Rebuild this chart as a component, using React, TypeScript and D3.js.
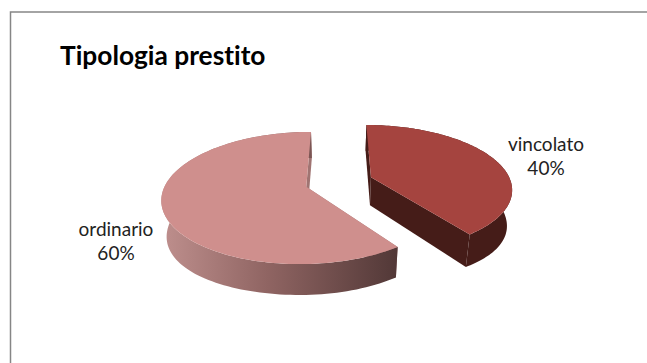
import React from "react";
import * as d3 from "d3";

const categories = ["vincolato", "ordinario"];
const shares = [40, 60];
const sliceColours = ["#a5443f", "#cf8f8d"];
const wallColours = ["#451c18", "#a07472"];
const titleText = "Tipologia prestito";

const W = 647;
const H = 363;
const FONT = "Lato, Carlito, sans-serif";

// Pie geometry in plane coordinates, seen through a mild perspective.
const RADIUS = 140;
const EXPLODE = 34;
const CENTER_X = 339;
const CENTER_Y = 182;
const TILT = 0.447;
const PERSPECTIVE = 0.0012;
const THICKNESS = 28;
const SIDE_BULGE = 8;
const BASE_SHRINK = 0.03;

type P = [number, number];

const perspective = (v: number) => 1 / (1 - PERSPECTIVE * v);

function topPoint(u: number, v: number): P {
  const s = perspective(v);
  return [CENTER_X + u * s, CENTER_Y + TILT * v * s];
}

// The underside sits lower towards the flanks, so the wall looks deeper there.
function basePoint(u: number, v: number): P {
  const s = perspective(v);
  const [x, y] = topPoint(u, v);
  const flank = Math.max(0, Math.abs(u) - EXPLODE) / RADIUS;
  return [
    CENTER_X + (x - CENTER_X) * (1 - BASE_SHRINK),
    y + THICKNESS * Math.sqrt(s) + SIDE_BULGE * flank * flank,
  ];
}

const pieLayout = d3
  .pie<number>()
  .sort(null)
  .startAngle(0)
  .endAngle(2 * Math.PI);

const linePath = d3.line<P>().curve(d3.curveLinear);

interface Rim {
  apex: P;
  rim: P[];
}

function planeRim(start: number, end: number): Rim {
  const mid = (start + end) / 2;
  const ox = EXPLODE * Math.sin(mid);
  const oy = -EXPLODE * Math.cos(mid);
  const angles = d3.range(0, 121).map((i) => start + ((end - start) * i) / 120);
  return {
    apex: [ox, oy],
    rim: angles.map((a) => [ox + RADIUS * Math.sin(a), oy - RADIUS * Math.cos(a)] as P),
  };
}

function Slice({ index, start, end, wallFill }: { index: number; start: number; end: number; wallFill: string }) {
  const { apex, rim } = planeRim(start, end);
  const first = rim[0];
  const last = rim[rim.length - 1];
  const wall = (pts: P[]) =>
    linePath([...pts.map((p) => topPoint(p[0], p[1])), ...pts.slice().reverse().map((p) => basePoint(p[0], p[1]))]) + "Z";
  const top = linePath([topPoint(apex[0], apex[1]), ...rim.map((p) => topPoint(p[0], p[1]))]) + "Z";
  return (
    <g>
      <path d={wall([apex, first])} fill={wallColours[index]} />
      <path d={wall([apex, last])} fill={wallColours[index]} />
      <path d={wall(rim)} fill={wallFill} />
      <path d={top} fill={sliceColours[index]} />
    </g>
  );
}

const labelPositions: { x: number; y: number[] }[] = [
  { x: 546, y: [151, 175] },
  { x: 116, y: [236, 260] },
];

export default function App() {
  const arcs = pieLayout(shares);
  return (
    <svg width={W} height={H} viewBox={`0 0 ${W} ${H}`} style={{ position: "absolute", left: 0, top: 0, display: "block", background: "#fff", fontVariantLigatures: "none" }}>
      <defs>
        <linearGradient id="ordinarioWall" gradientUnits="userSpaceOnUse" x1={165} x2={395} y1={0} y2={0}>
          <stop offset="0" stopColor="#bd8e8c" />
          <stop offset="0.45" stopColor="#8f6462" />
          <stop offset="1" stopColor="#533938" />
        </linearGradient>
      </defs>
      <path d={`M${W},12H10.5V${H}`} fill="none" stroke="#868686" strokeWidth={1.5} />
      <text x={60} y={65} fontFamily={FONT} fontWeight={700} fontSize={26.3} fill="#000">
        {titleText}
      </text>
      {arcs.map((a, i) => (
        <Slice
          key={categories[i]}
          index={i}
          start={a.startAngle}
          end={a.endAngle}
          wallFill={i === 0 ? wallColours[0] : "url(#ordinarioWall)"}
        />
      ))}
      {arcs.map((a, i) => (
        <text key={categories[i]} textAnchor="middle" fontFamily={FONT} fontSize={19} fill="#222">
          <tspan x={labelPositions[i].x} y={labelPositions[i].y[0]}>
            {categories[i]}
          </tspan>
          <tspan x={labelPositions[i].x} y={labelPositions[i].y[1]}>
            {`${shares[i]}%`}
          </tspan>
        </text>
      ))}
    </svg>
  );
}
